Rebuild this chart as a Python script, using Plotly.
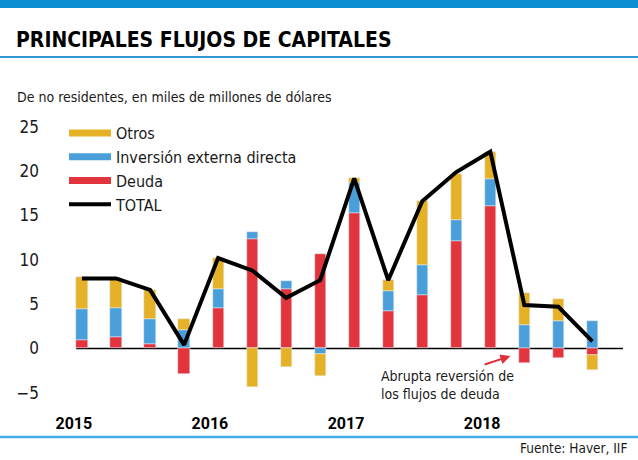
import plotly.graph_objects as go

# trimestres 2015 Q1 .. 2018 Q4
trimestres = list(range(16))
anios = ["2015", "2016", "2017", "2018"]
anio_pos = [-0.24, 3.76, 7.76, 11.76]

deuda = [1.0, 1.3, 0.5, -2.9, 4.6, 12.4, 6.7, 10.7, 15.3, 4.2, 6.0, 12.1, 16.1, -1.6, -1.1, -0.8]
inversion = [3.5, 3.3, 2.8, 2.1, 2.1, 0.7, 0.9, -0.6, 3.4, 2.3, 3.4, 2.4, 3.0, 2.6, 3.1, 3.1]
otros = [3.6, 3.4, 3.3, 1.2, 3.5, -4.3, -2.1, -2.5, 0.5, 1.2, 7.2, 5.2, 3.1, 3.7, 2.5, -1.6]
total = [7.9, 7.9, 6.6, 0.4, 10.2, 8.8, 5.7, 7.7, 19.2, 7.7, 16.6, 19.9, 22.2, 4.9, 4.7, 0.8]

AMARILLO = "#e5b227"
AZUL = "#4a9fdb"
ROJO = "#e2343c"
FUENTE = "DejaVu Sans Condensed, sans-serif"

W, H = 558, 288   # area del grafico en px
L = 65

def px(x):  # px horizontal -> paper
    return (x - L) / W

def py(y):  # px vertical -> paper
    return 1 - (y - 118) / H

fig = go.Figure()

# barras apiladas (relative para negativos)
fig.add_bar(x=trimestres, y=deuda, marker_color=ROJO, showlegend=False, width=0.33)
fig.add_bar(x=trimestres, y=inversion, marker_color=AZUL, showlegend=False, width=0.33)
fig.add_bar(x=trimestres, y=otros, marker_color=AMARILLO, showlegend=False, width=0.33)
fig.add_scatter(x=trimestres, y=total, mode="lines", line=dict(color="black", width=4),
                showlegend=False)

# leyenda con lineas gruesas
for nombre, color, ancho in [("Otros", AMARILLO, 7), ("Inversión externa directa", AZUL, 7),
                             ("Deuda", ROJO, 7), ("TOTAL", "black", 4)]:
    fig.add_scatter(x=[None], y=[None], mode="lines", name=nombre,
                    line=dict(color=color, width=ancho))

fig.update_layout(
    width=638, height=460,
    barmode="relative", bargap=0,
    paper_bgcolor="white", plot_bgcolor="white",
    margin=dict(l=L, r=638 - L - W, t=118, b=460 - 118 - H),
    font=dict(family=FUENTE, size=16, color="#1a1a1a"),
    legend=dict(x=px(64), y=py(116), xanchor="left", yanchor="top",
                bgcolor="rgba(0,0,0,0)", font=dict(size=16), tracegroupgap=0,
                itemwidth=42),
    xaxis=dict(range=[-0.5, 15.9], tickvals=anio_pos, ticktext=anios, automargin=False,
               tickfont=dict(size=16, color="black", family="Roboto", weight="bold"),
               showgrid=False, zeroline=False, showline=False, ticks="", ticklen=0,
               ticklabelstandoff=6),
    yaxis=dict(range=[-6.5, 26], tickvals=[-5, 0, 5, 10, 15, 20, 25], automargin=False,
               showgrid=False, zeroline=False, showline=False, ticks="", ticklen=0,
               ticklabelstandoff=25, tickfont=dict(size=17, color="#1a1a1a")),
    shapes=[
        dict(type="line", xref="x", yref="y", x0=-0.17, x1=15.9, y0=0, y1=0,
             line=dict(color="black", width=1.5), layer="below"),
        dict(type="rect", xref="paper", yref="paper", x0=px(-5), x1=px(645),
             y0=py(8), y1=py(-5), fillcolor="#0b8dd4", line_width=0),
        dict(type="line", xref="paper", yref="paper", x0=px(-5), x1=px(645),
             y0=py(57), y1=py(57), line=dict(color="#2f98d4", width=2)),
        dict(type="line", xref="paper", yref="paper", x0=px(-5), x1=px(645),
             y0=py(437), y1=py(437), line=dict(color="#45aee6", width=2.5)),
    ],
    annotations=[
        dict(text="PRINCIPALES FLUJOS DE CAPITALES", xref="paper", yref="paper",
             x=px(14), y=py(40), xanchor="left", yanchor="middle", showarrow=False,
             font=dict(size=21, color="black", weight="bold")),
        dict(text="De no residentes, en miles de millones de dólares", xref="paper",
             yref="paper", x=px(15), y=py(97), xanchor="left", yanchor="middle",
             showarrow=False, font=dict(size=14)),
        dict(text="Abrupta reversión de<br>los flujos de deuda", x=8.72, y=-1.95,
             xanchor="left", yanchor="top", align="left", showarrow=False,
             font=dict(size=14)),
        dict(x=12.59, y=-0.87, ax=11.79, ay=-1.88, xref="x", yref="y", axref="x", ayref="y",
             text="", showarrow=True, arrowhead=2, arrowsize=1, arrowwidth=2,
             arrowcolor="#e0303a"),
        dict(text="Fuente: Haver, IIF", xref="paper", yref="paper", x=px(629), y=py(448),
             xanchor="right", yanchor="middle", showarrow=False, font=dict(size=13.5)),
    ],
)

# sin margen del body para que la figura ocupe toda la ventana
fig.write_html("out.html", config={"displayModeBar": False},
               post_script="document.body.style.margin='0';")
